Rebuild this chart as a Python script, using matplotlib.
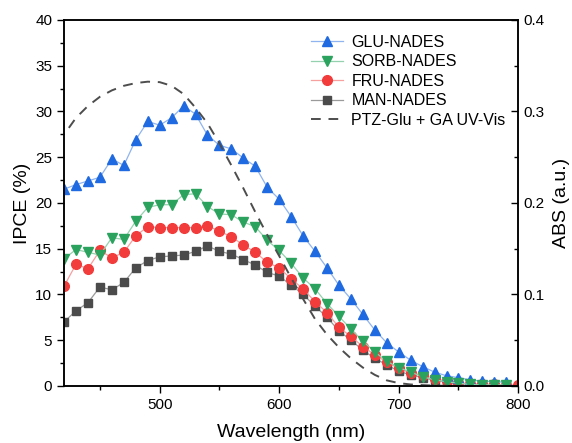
import matplotlib
matplotlib.use('Agg')
import matplotlib.pyplot as plt
from matplotlib.ticker import MultipleLocator, FormatStrFormatter

plt.rcParams['font.family'] = ['Liberation Sans', 'DejaVu Sans']

# 波长 (nm)
wl = list(range(420, 800, 10))          # 420 ... 790
wl_fru = list(range(420, 810, 10))      # 420 ... 800

glu = [21.5, 22.0, 22.4, 22.8, 24.8, 24.1, 26.9, 28.9, 28.5, 29.3,
       30.6, 29.7, 27.4, 26.3, 25.9, 24.9, 24.0, 21.7, 20.4, 18.5,
       16.4, 14.7, 12.9, 11.0, 9.5, 7.8, 6.1, 4.7, 3.7, 2.8,
       2.1, 1.5, 1.1, 0.9, 0.65, 0.5, 0.45, 0.4]
sorb = [13.9, 14.9, 14.6, 14.3, 16.2, 16.0, 18.0, 19.5, 19.8, 19.8,
        20.9, 21.0, 19.6, 18.8, 18.7, 17.9, 17.4, 15.9, 14.8, 13.4,
        11.8, 10.6, 9.0, 7.6, 6.2, 4.9, 3.7, 2.7, 2.0, 1.5,
        1.0, 0.65, 0.45, 0.3, 0.15, 0.1, 0.1, 0.1]
fru = [10.9, 13.3, 12.8, 14.8, 14.0, 14.6, 16.4, 17.4, 17.3, 17.3,
       17.3, 17.3, 17.5, 16.9, 16.3, 15.4, 14.6, 13.5, 12.9, 11.7,
       10.6, 9.2, 8.0, 6.4, 5.4, 4.3, 3.4, 2.6, 1.9, 1.4,
       1.2, 0.8, 0.5, 0.35, 0.25, 0.2, 0.15, 0.1, 0.1]
man = [7.0, 8.2, 9.1, 10.8, 10.5, 11.3, 12.9, 13.7, 14.1, 14.2,
       14.3, 14.7, 15.3, 14.7, 14.4, 13.8, 13.2, 12.4, 12.0, 11.0,
       10.0, 8.7, 7.5, 6.0, 5.0, 3.9, 3.0, 2.3, 1.6, 1.2,
       0.9, 0.6, 0.4, 0.25, 0.15, 0.1, 0.1, 0.1]

# UV-Vis 吸收曲线
uv_wl = [424, 430, 440, 450, 460, 470, 480, 490, 500, 510, 520, 530, 540,
         550, 560, 570, 580, 590, 600, 610, 620, 630, 640, 650, 660, 670,
         680, 690, 700, 710, 720, 730, 742]
uv_abs = [0.282, 0.293, 0.306, 0.316, 0.323, 0.328, 0.331, 0.3325, 0.332,
          0.328, 0.319, 0.304, 0.287, 0.265, 0.241, 0.216, 0.190, 0.165,
          0.142, 0.118, 0.095, 0.073, 0.056, 0.042, 0.030, 0.020, 0.012,
          0.006, 0.003, 0.0015, 0.0008, 0.0003, 0.0]

fig = plt.figure(figsize=(5.72, 4.43), dpi=100)
ax = fig.add_axes([0.112, 0.129, 0.794, 0.826])

series = [
    (man, wl, 's', '#4b4b4b', '#9a9a9a', 'MAN-NADES', 6),
    (fru, wl_fru, 'o', '#f23c3c', '#f7a0a0', 'FRU-NADES', 7),
    (glu, wl, '^', '#1f6ae0', '#8fb4ef', 'GLU-NADES', 7.5),
    (sorb, wl, 'v', '#2ba35e', '#95d1ae', 'SORB-NADES', 7.5),
]
handles = {}
for y, x, m, c, lc, lab, ms in series:
    ax.plot(x, y, color=lc, lw=0.9)
    ax.plot(x, y, ls='none', marker=m, color=c, ms=ms, mec=c)
    # 图例用：线浅色、标记深色
    h, = ax.plot([], [], color=lc, lw=0.9, marker=m, ms=ms,
                 markerfacecolor=c, markeredgecolor=c, label=lab)
    handles[lab] = h

ax.set_xlim(420, 800)
ax.set_ylim(0, 40)
ax.xaxis.set_major_locator(MultipleLocator(100))
ax.xaxis.set_minor_locator(MultipleLocator(50))
ax.yaxis.set_major_locator(MultipleLocator(5))
ax.yaxis.set_minor_locator(MultipleLocator(2.5))
ax.tick_params(which='major', direction='out', length=5, width=1, labelsize=11)
ax.tick_params(which='minor', direction='out', length=3, width=1)
ax.set_xlabel('Wavelength (nm)', fontsize=14, labelpad=9)
ax.set_ylabel('IPCE (%)', fontsize=14, labelpad=3)
for s in ax.spines.values():
    s.set_linewidth(1.1)

ax2 = ax.twinx()
uv, = ax2.plot(uv_wl, uv_abs, color='#4d4d4d', lw=1.4, ls=(0, (5, 4)),
               label='PTZ-Glu + GA UV-Vis')
ax2.set_ylim(0, 0.4)
ax2.yaxis.set_major_locator(MultipleLocator(0.1))
ax2.yaxis.set_minor_locator(MultipleLocator(0.05))
ax2.yaxis.set_major_formatter(FormatStrFormatter('%.1f'))
ax2.tick_params(which='major', direction='in', length=5, width=1, labelsize=11)
ax2.tick_params(which='minor', direction='in', length=3, width=1)
ax2.set_ylabel('ABS (a.u.)', fontsize=14, labelpad=6)
for s in ax2.spines.values():
    s.set_linewidth(1.1)

order = ['GLU-NADES', 'SORB-NADES', 'FRU-NADES', 'MAN-NADES']
hl = [handles[k] for k in order] + [uv]
leg = ax2.legend(hl, order + ['PTZ-Glu + GA UV-Vis'], loc='upper left',
                 bbox_to_anchor=(0.52, 0.99), frameon=False, fontsize=11.5,
                 handlelength=2.0, handletextpad=0.5, labelspacing=0.28,
                 borderpad=0.2)

fig.savefig('out.png', dpi=100, facecolor='white')
